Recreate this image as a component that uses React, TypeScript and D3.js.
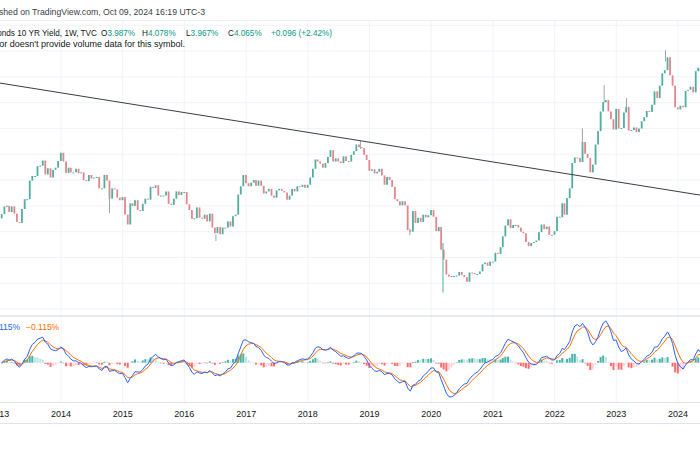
import React from 'react';
import * as d3 from 'd3';

const W = 700;
const H = 450;

// Semi-monthly closes (mid-month, month-end) of the 10Y yield, in %
const y2013 = [1.84, 1.99, 2.0, 1.88, 1.99, 1.85, 1.69, 1.67, 1.94, 2.13, 2.13, 2.49, 2.58, 2.58, 2.77, 2.78, 2.88, 2.61, 2.73, 2.55, 2.7, 2.74, 2.87, 3.03];
const y2014 = [2.86, 2.64, 2.74, 2.65, 2.65, 2.72, 2.63, 2.65, 2.5, 2.48, 2.6, 2.53, 2.55, 2.56, 2.34, 2.34, 2.6, 2.49, 2.14, 2.34, 2.32, 2.16, 2.11, 2.17];
const y2015 = [1.83, 1.64, 2.05, 2.0, 2.11, 1.92, 1.9, 2.04, 2.14, 2.12, 2.37, 2.35, 2.4, 2.2, 2.2, 2.2, 2.28, 2.04, 2.02, 2.14, 2.28, 2.21, 2.27, 2.27];
const y2016 = [2.03, 1.92, 1.75, 1.76, 1.97, 1.77, 1.75, 1.83, 1.7, 1.85, 1.58, 1.47, 1.59, 1.45, 1.58, 1.58, 1.7, 1.6, 1.8, 1.83, 2.22, 2.38, 2.6, 2.44];
const y2017 = [2.38, 2.45, 2.5, 2.39, 2.49, 2.39, 2.24, 2.28, 2.33, 2.2, 2.16, 2.3, 2.33, 2.29, 2.26, 2.12, 2.2, 2.33, 2.28, 2.38, 2.37, 2.41, 2.35, 2.41];
const y2018 = [2.55, 2.72, 2.9, 2.86, 2.82, 2.74, 2.83, 2.95, 3.08, 2.86, 2.92, 2.86, 2.83, 2.96, 2.87, 2.86, 2.99, 3.06, 3.19, 3.14, 3.12, 2.99, 2.89, 2.68];
const y2019 = [2.71, 2.63, 2.66, 2.72, 2.59, 2.41, 2.56, 2.5, 2.37, 2.13, 2.09, 2.01, 2.09, 2.01, 1.53, 1.5, 1.9, 1.67, 1.77, 1.69, 1.83, 1.78, 1.82, 1.92];
const y2020 = [1.79, 1.51, 1.59, 1.15, 0.96, 0.67, 0.63, 0.64, 0.64, 0.65, 0.72, 0.66, 0.62, 0.53, 0.71, 0.7, 0.68, 0.68, 0.73, 0.87, 0.9, 0.84, 0.92, 0.92];
const y2021 = [1.09, 1.07, 1.2, 1.41, 1.62, 1.74, 1.57, 1.63, 1.63, 1.58, 1.5, 1.47, 1.3, 1.22, 1.28, 1.3, 1.33, 1.49, 1.64, 1.55, 1.6, 1.44, 1.44, 1.51];
const y2022 = [1.79, 1.78, 2.05, 1.83, 2.15, 2.34, 2.83, 2.94, 2.93, 2.85, 3.24, 3.01, 2.93, 2.65, 2.8, 3.19, 3.45, 3.83, 4.01, 4.05, 3.83, 3.68, 3.48, 3.88];
const y2023 = [3.5, 3.51, 3.81, 3.92, 3.46, 3.47, 3.52, 3.43, 3.5, 3.64, 3.72, 3.84, 3.82, 3.96, 4.22, 4.09, 4.33, 4.57, 4.63, 4.88, 4.53, 4.33, 3.91, 3.87];
const y2024 = [3.94, 3.91, 4.23, 4.25, 4.31, 4.2, 4.61, 4.68, 4.35, 4.5];
const yearlyCloses = [y2013, y2014, y2015, y2016, y2017, y2018, y2019, y2020, y2021, y2022, y2023, y2024];
const firstYear = 2013;
const firstOpen = 1.76;

// Notable wick extremes
const spikeDates = ['2014-10-15', '2016-07-06', '2018-11-08', '2019-08-28', '2020-03-11', '2022-06-14', '2022-10-21', '2023-03-02', '2023-10-19'];
const spikeHigh = [2.3, 1.45, 3.26, 1.56, 1.28, 3.5, 4.34, 4.09, 5.02];
const spikeLow = [1.86, 1.32, 3.1, 1.43, 0.32, 3.1, 4.0, 3.9, 4.8];

// Trend line anchors
const trendDates = ['2013-01-05', '2024-05-10'];
const trendValues = [4.38, 2.21];

// Axis
const yearTicks = [2013, 2014, 2015, 2016, 2017, 2018, 2019, 2020, 2021, 2022, 2023, 2024];
const gridValues = [0, 0.5, 1, 1.5, 2, 2.5, 3, 3.5, 4, 4.5, 5, 5.5];

// Legend texts
const publishedText = 'Published on TradingView.com, Oct 09, 2024 16:19 UTC-3';
const symbolText = 'US Government Bonds 10 YR Yield, 1W, TVC';
const ohlcLabels = ['O', 'H', 'L', 'C'];
const ohlcValues = ['3.987%', '4.078%', '3.967%', '4.065%'];
const changeText = '+0.096 (+2.42%)';
const volumeText = "Data vendor doesn't provide volume data for this symbol.";
const macdLegend = ['0.115%', '\u22120.115%'];

// MACD params (weeks)
const FAST_W = 12;
const SLOW_W = 26;
const SIGNAL_W = 9;

type Candle = { date: Date; open: number; close: number };

const candles: Candle[] = [];
{
  let prev = firstOpen;
  yearlyCloses.forEach((arr, yi) => {
    const year = firstYear + yi;
    arr.forEach((c, k) => {
      const m = Math.floor(k / 2);
      const date = k % 2 === 0 ? new Date(year, m, 15) : new Date(year, m + 1, 0);
      candles.push({ date, open: prev, close: c });
      prev = c;
    });
  });
}

const periodWeeks = 365.25 / 24 / 7;
function ema(vals: number[], weeks: number) {
  const n = weeks / periodWeeks;
  const a = 2 / (n + 1);
  let e = vals[0];
  return vals.map((v) => (e = a * v + (1 - a) * e));
}
const closes = candles.map((c) => c.close);
const emaFast = ema(closes, FAST_W);
const emaSlow = ema(closes, SLOW_W);
const macd = emaFast.map((f, i) => f - emaSlow[i]);
const signal = ema(macd, SIGNAL_W);
const hist = macd.map((m, i) => m - signal[i]);

const x = d3.scaleTime().domain([new Date(2014, 0, 1), new Date(2024, 0, 1)]).range([61, 678]);
const y = d3.scaleLinear().domain([0, 5.5]).range([309.1, 25.3]);
const ym = d3.scaleLinear().domain([-0.4, 0.4]).range([404.7, 320.7]);

const UP = '#4fae9f';
const DOWN = '#e3868b';
const FONT = "'Liberation Sans', Arial, sans-serif";

export default function App() {
  const macdLine = d3.line<number>().x((_, i) => x(candles[i].date)).y((d) => ym(d));
  const parse = d3.timeParse('%Y-%m-%d');
  const bw = 1.8;
  return (
    <svg width={W} height={H} style={{ position: 'fixed', left: 0, top: 0, background: '#fff' }} fontFamily={FONT}>
      <defs>
        <clipPath id="mainClip"><rect x={0} y={21} width={W} height={295} /></clipPath>
        <clipPath id="macdClip"><rect x={0} y={317} width={W} height={85} /></clipPath>
      </defs>
      <rect width={W} height={H} fill="#fff" />
      {/* grid */}
      {yearTicks.map((yr) => (
        <line key={'vg' + yr} x1={x(new Date(yr, 0, 1))} x2={x(new Date(yr, 0, 1))} y1={21} y2={402} stroke="#f0f3fa" />
      ))}
      {gridValues.map((v) => (
        <line key={'hg' + v} x1={0} x2={W} y1={y(v)} y2={y(v)} stroke="#f0f3fa" />
      ))}
      <line x1={0} x2={W} y1={20.5} y2={20.5} stroke="#eef0f4" />
      <line x1={0} x2={W} y1={316} y2={316} stroke="#e0e3eb" strokeWidth={1.5} />
      <line x1={0} x2={W} y1={402.5} y2={402.5} stroke="#e0e3eb" />
      <line x1={0} x2={W} y1={423.5} y2={423.5} stroke="#e0e3eb" />

      {/* candles */}
      <g clipPath="url(#mainClip)">
        {candles.map((c, i) => {
          const up = c.close >= c.open;
          const y1 = y(Math.max(c.open, c.close));
          const y2 = y(Math.min(c.open, c.close));
          return (
            <rect key={'c' + i} x={x(c.date) - bw / 2} y={y1} width={bw} height={Math.max(1, y2 - y1)} fill={up ? UP : DOWN} />
          );
        })}
        {spikeDates.map((d, i) => {
          const dt = parse(d)!;
          const xx = x(dt);
          return <line key={'s' + i} x1={xx} x2={xx} y1={y(spikeHigh[i])} y2={y(spikeLow[i])} stroke={i === 4 ? UP : '#9aa6a8'} strokeWidth={1} />;
        })}
        <line
          x1={x(parse(trendDates[0])!)}
          y1={y(trendValues[0])}
          x2={x(parse(trendDates[1])!)}
          y2={y(trendValues[1])}
          stroke="#3a3d45"
          strokeWidth={1}
        />
      </g>

      {/* MACD */}
      <g clipPath="url(#macdClip)">
        {hist.map((h, i) => {
          const prev = i > 0 ? hist[i - 1] : 0;
          let col;
          if (h >= 0) col = h >= prev ? '#26a69a' : '#b2dfdb';
          else col = h <= prev ? '#ff5252' : '#ffcdd2';
          const y0 = ym(0);
          const yy = ym(h);
          return (
            <rect key={'h' + i} x={x(candles[i].date) - 1} y={Math.min(y0, yy)} width={2} height={Math.max(0.6, Math.abs(yy - y0))} fill={col} opacity={0.85} />
          );
        })}
        <path d={macdLine(signal) || ''} fill="none" stroke="#ff6d00" strokeWidth={1} />
        <path d={macdLine(macd) || ''} fill="none" stroke="#2962ff" strokeWidth={1} />
      </g>
      <text x={20} y={330} fontSize={8.5} fill="#2962ff" textAnchor="end">{macdLegend[0]}</text>
      <text x={26} y={330} fontSize={8.5} fill="#ff6d00">{macdLegend[1]}</text>

      {/* x axis labels */}
      {yearTicks.map((yr) => (
        <text key={'xl' + yr} x={x(new Date(yr, 0, 1))} y={416.5} fontSize={9} fill="#131722" textAnchor="middle">{yr}</text>
      ))}

      {/* header */}
      <text x={205} y={15} fontSize={8.7} fill="#3b3e47" textAnchor="end">{publishedText}</text>
      <text x={97} y={36} fontSize={8.2} fill="#131722" textAnchor="end">{symbolText}</text>
      {ohlcLabels.map((l, i) => (
        <text key={'o' + i} x={[101, 142, 186, 228][i]} y={36} fontSize={8.2} fill="#131722">
          {l}
          <tspan fill="#089981">{ohlcValues[i]}</tspan>
        </text>
      ))}
      <text x={271} y={36} fontSize={8.2} fill="#089981">{changeText}</text>
      <text x={185} y={47} fontSize={9} fill="#131722" textAnchor="end">{volumeText}</text>
    </svg>
  );
}
